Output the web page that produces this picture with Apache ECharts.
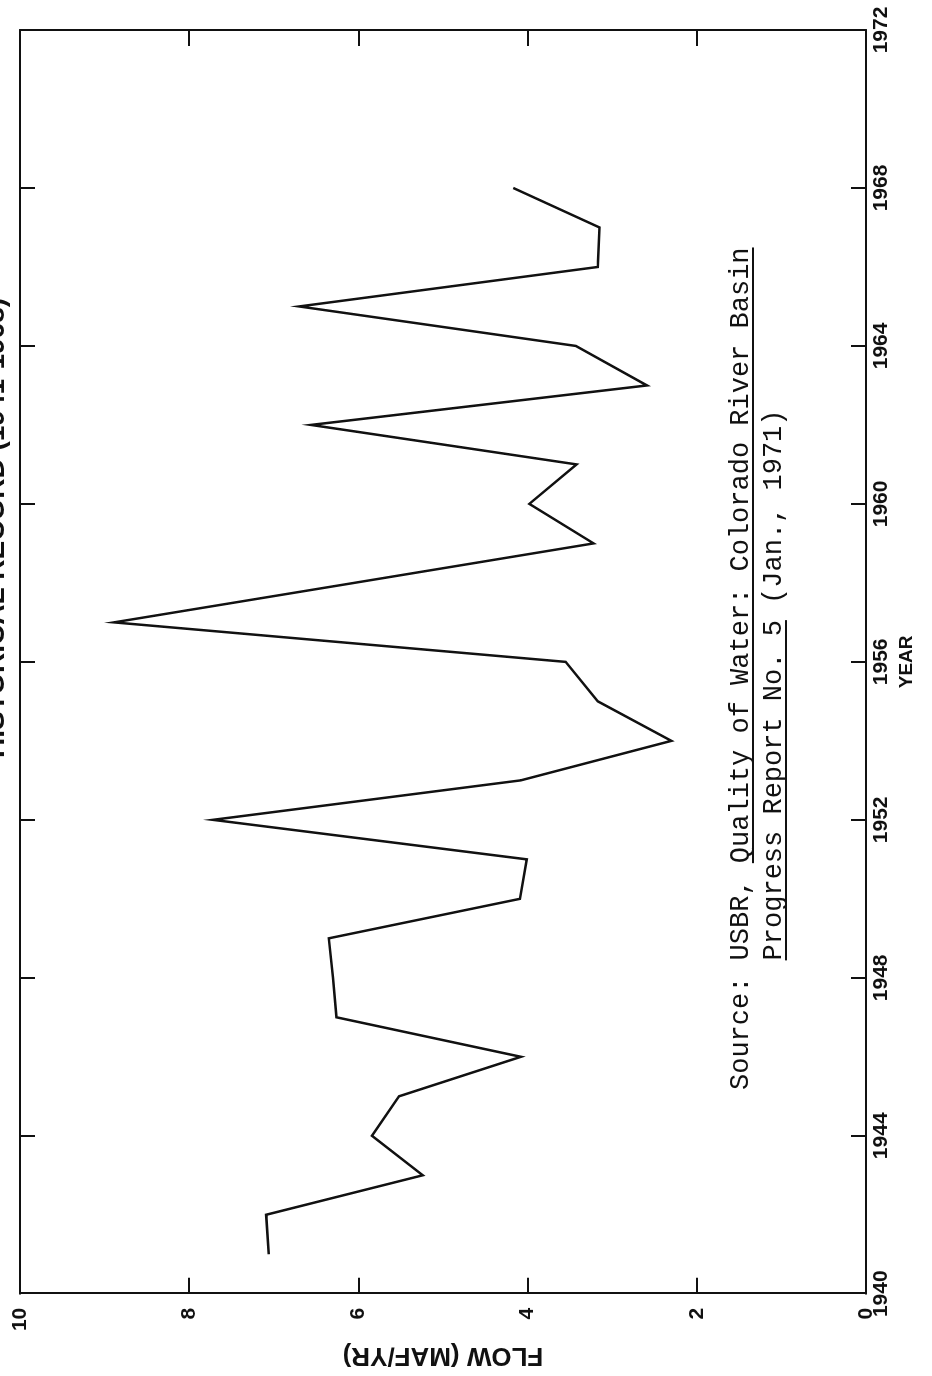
<!DOCTYPE html>
<html>
<head>
<meta charset="utf-8">
<script src="https://cdn.jsdelivr.net/npm/echarts@6/dist/echarts.min.js"></script>
<style>
  html, body { margin: 0; padding: 0; background: #fff; width: 932px; height: 1376px; overflow: hidden; }
  /* The plot is laid out landscape and turned a quarter turn counter-clockwise onto the page */
  #chart {
    position: absolute; left: 0; top: 0;
    width: 1376px; height: 932px;
    transform-origin: 0 0;
    transform: translate(0, 1376px) rotate(-90deg);
  }
</style>
</head>
<body>
<div id="chart"></div>
<script>
// Annual flow, million acre-feet per year
const years = [1941, 1942, 1943, 1944, 1945, 1946, 1947, 1948, 1949, 1950,
               1951, 1952, 1953, 1954, 1955, 1956, 1957, 1958, 1959, 1960,
               1961, 1962, 1963, 1964, 1965, 1966, 1967, 1968];
const flow  = [7.06, 7.09, 5.24, 5.84, 5.52, 4.08, 6.26, 6.30, 6.35, 4.09,
               4.01, 7.72, 4.08, 2.30, 3.17, 3.55, 8.89, 6.05, 3.22, 3.98,
               3.42, 6.56, 2.59, 3.43, 6.70, 3.17, 3.15, 4.17];

const yearRange = [1940, 1972];
const yearStep = 4;
const flowRange = [0, 10];
const flowStep = 2;

const titleText = 'HISTORICAL RECORD (1941-1968)';
const xName = 'YEAR';
const yName = 'FLOW (MAF/YR)';
const sourceLine1 = 'Source: USBR, Quality of Water: Colorado River Basin';
const sourceLine2 = 'Progress Report No. 5 (Jan., 1971)';
const underline1 = 'Quality of Water: Colorado River Basin';
const underline2 = 'Progress Report No. 5';

const plotFont = '"Liberation Sans", Arial, sans-serif';
const typeFont = '"Liberation Mono", "DejaVu Sans Mono", monospace';
const typeSize = 27;
const ink = '#111';

// width of one typewriter character
const meas = document.createElement('canvas').getContext('2d');
meas.font = typeSize + 'px ' + typeFont;
const cw = meas.measureText('M').width;

const src1X = 286, src1Y = 741;
const indent = sourceLine1.indexOf('USBR');
const src2X = src1X + indent * cw, src2Y = 774;
const u1Start = src1X + sourceLine1.indexOf(underline1) * cw;
const u1End = u1Start + underline1.length * cw;
const u2Start = src2X;
const u2End = u2Start + underline2.length * cw;

const axisLineStyle = { color: ink, width: 2 };
const plainNumber = v => String(v);

const chart = echarts.init(document.getElementById('chart'), null, { renderer: 'canvas' });
chart.setOption({
  animation: false,
  backgroundColor: '#fff',
  grid: { left: 74, right: 30, top: 20, bottom: 66, containLabel: false },
  xAxis: [
    {
      type: 'value', position: 'bottom',
      min: yearRange[0], max: yearRange[1], interval: yearStep,
      name: xName, nameLocation: 'middle', nameGap: 29,
      nameTextStyle: { color: ink, fontFamily: plotFont, fontSize: 19, fontWeight: 'bold' },
      axisLine: { show: true, onZero: false, lineStyle: axisLineStyle },
      axisTick: { show: true, inside: true, length: 15, lineStyle: axisLineStyle },
      axisLabel: { show: true, margin: 5, color: ink, fontFamily: plotFont, fontSize: 21,
                   fontWeight: 'bold', formatter: plainNumber,
                   showMinLabel: true, showMaxLabel: true },
      splitLine: { show: false }
    },
    {
      type: 'value', position: 'top',
      min: yearRange[0], max: yearRange[1], interval: yearStep,
      axisLine: { show: true, onZero: false, lineStyle: axisLineStyle },
      axisTick: { show: true, inside: true, length: 15, lineStyle: axisLineStyle },
      axisLabel: { show: false },
      splitLine: { show: false }
    }
  ],
  yAxis: [
    {
      type: 'value', position: 'left',
      min: flowRange[0], max: flowRange[1], interval: flowStep,
      name: yName, nameLocation: 'middle', nameGap: 46, nameRotate: 90,
      nameTextStyle: { color: ink, fontFamily: plotFont, fontSize: 26, fontWeight: 'bold' },
      axisLine: { show: true, onZero: false, lineStyle: axisLineStyle },
      axisTick: { show: true, inside: true, length: 16, lineStyle: axisLineStyle },
      axisLabel: { show: true, margin: 14, color: ink, fontFamily: plotFont, fontSize: 21,
                   fontWeight: 'bold', formatter: plainNumber,
                   showMinLabel: true, showMaxLabel: true },
      splitLine: { show: false }
    },
    {
      type: 'value', position: 'right',
      min: flowRange[0], max: flowRange[1], interval: flowStep,
      axisLine: { show: true, onZero: false, lineStyle: axisLineStyle },
      axisTick: { show: true, inside: true, length: 16, lineStyle: axisLineStyle },
      axisLabel: { show: false },
      splitLine: { show: false }
    }
  ],
  series: [
    {
      type: 'line',
      xAxisIndex: 0, yAxisIndex: 0,
      data: years.map((y, i) => [y, flow[i]]),
      showSymbol: false, symbol: 'none',
      lineStyle: { color: ink, width: 2.5, join: 'miter' },
      silent: true
    }
  ],
  graphic: [
    {
      type: 'text', x: 848, y: -4,
      style: { text: titleText, fill: ink, font: 'bold 28px ' + plotFont,
               textAlign: 'center', textVerticalAlign: 'middle' }
    },
    {
      type: 'text', x: src1X, y: src1Y,
      style: { text: sourceLine1, fill: ink, font: typeSize + 'px ' + typeFont,
               textAlign: 'left', textVerticalAlign: 'middle' }
    },
    {
      type: 'text', x: src2X, y: src2Y,
      style: { text: sourceLine2, fill: ink, font: typeSize + 'px ' + typeFont,
               textAlign: 'left', textVerticalAlign: 'middle' }
    },
    {
      type: 'line',
      shape: { x1: u1Start, y1: 753, x2: u1End, y2: 753 },
      style: { stroke: ink, lineWidth: 2 }
    },
    {
      type: 'line',
      shape: { x1: u2Start, y1: 786, x2: u2End, y2: 786 },
      style: { stroke: ink, lineWidth: 2 }
    }
  ]
});
</script>
</body>
</html>
